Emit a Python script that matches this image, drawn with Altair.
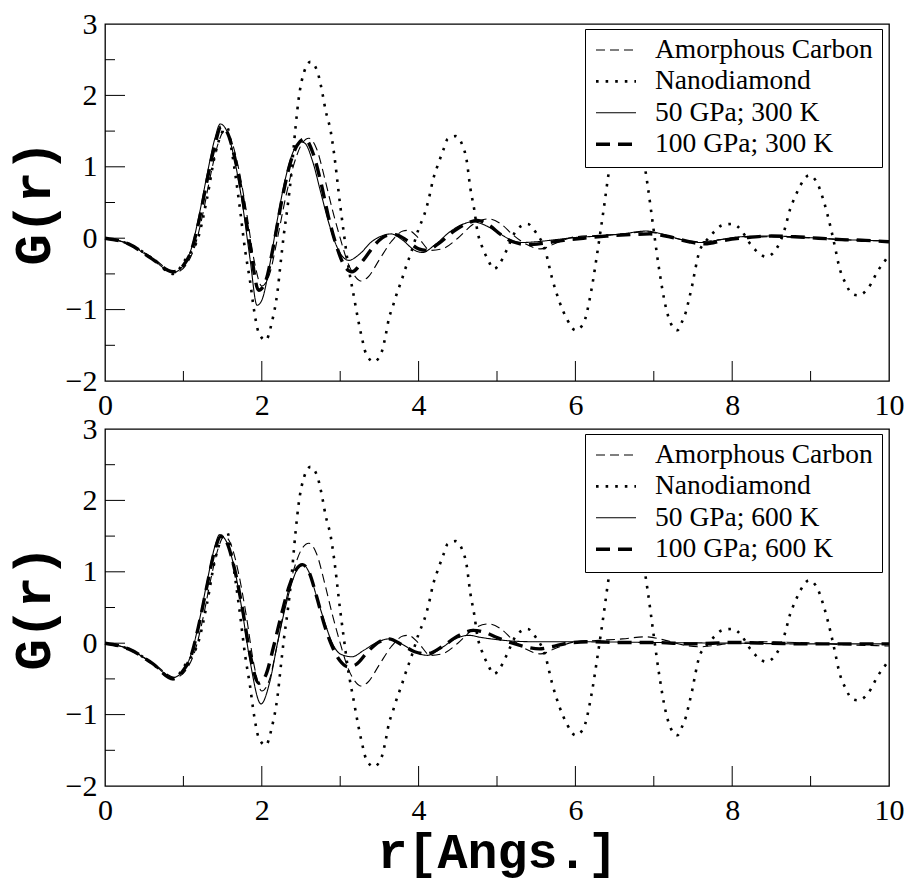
import altair as alt
import pandas as pd

# ---------------- data ----------------
r_amorphous = [0.0, 0.3, 0.6, 0.9, 1.05, 1.15, 1.25, 1.35, 1.45, 1.52, 1.6, 1.7, 1.8, 1.9, 2.0,
               2.1, 2.2, 2.3, 2.4, 2.5, 2.6, 2.7, 2.8, 2.9, 3.0, 3.1, 3.2, 3.26, 3.35, 3.5, 3.65,
               3.8, 3.87, 4.0, 4.15, 4.3, 4.5, 4.7, 4.9, 5.05, 5.2, 5.4, 5.56, 5.75, 6.0, 6.3,
               6.6, 6.9, 7.15, 7.4, 7.6, 7.85, 8.1, 8.5, 8.8, 9.1, 9.4, 9.7, 10.0]
g_amorphous = [0.0, -0.08, -0.27, -0.48, -0.35, -0.1, 0.35, 0.9, 1.35, 1.5, 1.4, 1.0, 0.4, -0.3, -0.67,
               -0.5, 0.0, 0.55, 1.0, 1.3, 1.4, 1.25, 0.85, 0.4, 0.0, -0.35, -0.55, -0.6, -0.55, -0.3, -0.05,
               0.1, 0.11, 0.0, -0.17, -0.15, 0.0, 0.2, 0.27, 0.2, 0.05, -0.1, -0.15, -0.07, 0.02, 0.04,
               0.06, 0.09, 0.04, -0.03, -0.05, -0.02, 0.01, 0.02, 0.01, 0.0, -0.02, -0.03, -0.04]

r_nano = [0.0, 0.3, 0.6, 0.87, 1.03, 1.2, 1.3, 1.4, 1.48, 1.56, 1.62, 1.71, 1.79, 1.85, 1.9, 1.96,
          2.05, 2.13, 2.2, 2.24, 2.28, 2.33, 2.37, 2.43, 2.47, 2.54, 2.62, 2.71, 2.77, 2.81, 2.88,
          2.92, 3.0, 3.05, 3.09, 3.18, 3.23, 3.28, 3.33, 3.43, 3.53, 3.58, 3.62, 3.67, 3.73, 3.78,
          3.83, 3.92, 4.0, 4.07, 4.13, 4.18, 4.26, 4.32, 4.37, 4.47, 4.56, 4.61, 4.66, 4.71, 4.75,
          4.81, 4.88, 4.96, 5.07, 5.13, 5.26, 5.39, 5.49, 5.62, 5.7, 5.8, 5.9, 6.0, 6.1, 6.2, 6.28,
          6.36, 6.43, 6.52, 6.6, 6.68, 6.76, 6.84, 6.92, 7.0, 7.07, 7.15, 7.22, 7.3, 7.36, 7.41,
          7.45, 7.49, 7.53, 7.58, 7.66, 7.77, 7.87, 8.0, 8.13, 8.21, 8.3, 8.43, 8.55, 8.66, 8.74,
          8.81, 8.87, 8.98, 9.09, 9.17, 9.26, 9.32, 9.36, 9.45, 9.53, 9.6, 9.66, 9.77, 9.85, 9.92, 10.0]
g_nano = [0.0, -0.08, -0.28, -0.5, -0.29, 0.05, 0.55, 1.15, 1.45, 1.55, 1.2, 0.51, -0.19, -0.6, -1.0, -1.32,
          -1.43, -1.17, -0.75, -0.35, 0.04, 0.45, 0.83, 1.55, 1.95, 2.33, 2.47, 2.33, 2.05, 1.81, 1.49,
          1.2, 0.46, 0.04, -0.29, -0.85, -1.15, -1.41, -1.62, -1.73, -1.59, -1.36, -1.13, -0.96, -0.75, -0.6,
          -0.43, -0.15, 0.13, 0.32, 0.55, 0.8, 1.07, 1.25, 1.39, 1.43, 1.3, 1.11, 0.7, 0.4, 0.1,
          -0.12, -0.29, -0.43, -0.29, -0.15, 0.13, 0.2, 0.09, -0.19, -0.55, -0.9, -1.15, -1.29, -1.2, -0.75, -0.2,
          0.4, 0.95, 1.45, 1.75, 1.85, 1.7, 1.3, 0.75, 0.1, -0.45, -0.95, -1.2, -1.29, -1.17, -1.03,
          -0.85, -0.66, -0.43, -0.19, -0.05, 0.09, 0.18, 0.2, 0.09, -0.05, -0.17, -0.26, -0.17, 0.09, 0.41,
          0.6, 0.74, 0.88, 0.76, 0.51, 0.13, -0.17, -0.38, -0.64, -0.78, -0.8, -0.78, -0.64, -0.47, -0.36, -0.24]

r_50_300 = [0.0, 0.3, 0.6, 0.87, 1.0, 1.1, 1.2, 1.3, 1.4, 1.47, 1.55, 1.65, 1.75, 1.85, 1.94, 2.0,
            2.1, 2.2, 2.3, 2.4, 2.5, 2.55, 2.65, 2.75, 2.85, 2.95, 3.05, 3.11, 3.25, 3.4, 3.55, 3.65,
            3.8, 3.95, 4.05, 4.2, 4.4, 4.55, 4.7, 4.85, 5.0, 5.15, 5.32, 5.5, 5.75, 6.0, 6.3, 6.6,
            6.9, 7.1, 7.35, 7.6, 7.85, 8.1, 8.5, 8.8, 9.1, 9.4, 9.7, 10.0]
g_50_300 = [0.0, -0.08, -0.29, -0.48, -0.38, -0.15, 0.32, 0.88, 1.39, 1.6, 1.51, 1.11, 0.5, -0.29, -0.94, -0.87,
            -0.38, 0.27, 0.83, 1.21, 1.35, 1.33, 1.07, 0.65, 0.23, -0.1, -0.28, -0.31, -0.22, -0.05, 0.04, 0.06,
            -0.03, -0.17, -0.2, -0.1, 0.09, 0.19, 0.23, 0.18, 0.09, -0.01, -0.06, -0.05, -0.02, 0.01, 0.03, 0.06,
            0.1, 0.06, -0.02, -0.06, -0.02, 0.02, 0.03, 0.02, 0.0, -0.02, -0.03, -0.04]

r_100_300 = [0.0, 0.3, 0.6, 0.87, 1.0, 1.1, 1.2, 1.3, 1.4, 1.48, 1.55, 1.65, 1.75, 1.85, 1.96, 2.05,
             2.15, 2.25, 2.35, 2.45, 2.55, 2.65, 2.75, 2.85, 2.95, 3.05, 3.15, 3.3, 3.45, 3.6, 3.7,
             3.85, 4.0, 4.1, 4.25, 4.45, 4.6, 4.75, 4.9, 5.05, 5.2, 5.4, 5.6, 5.85, 6.1, 6.4, 6.7,
             6.95, 7.2, 7.45, 7.65, 7.9, 8.2, 8.5, 8.8, 9.1, 9.4, 9.7, 10.0]
g_100_300 = [0.0, -0.08, -0.29, -0.47, -0.38, -0.18, 0.25, 0.8, 1.3, 1.56, 1.5, 1.15, 0.6, -0.1, -0.73, -0.6,
             -0.1, 0.5, 1.0, 1.3, 1.39, 1.2, 0.8, 0.3, -0.1, -0.38, -0.47, -0.3, -0.08, 0.04, 0.05,
             -0.03, -0.15, -0.17, -0.08, 0.1, 0.2, 0.25, 0.18, 0.05, -0.05, -0.09, -0.07, -0.03, 0.0, 0.03, 0.05,
             0.06, 0.02, -0.05, -0.08, -0.03, 0.01, 0.03, 0.02, 0.0, -0.02, -0.03, -0.05]

r_50_600 = [0.0, 0.3, 0.6, 0.87, 1.0, 1.1, 1.2, 1.3, 1.4, 1.46, 1.55, 1.65, 1.75, 1.85, 1.99, 2.1,
            2.2, 2.3, 2.4, 2.51, 2.6, 2.7, 2.8, 2.9, 3.0, 3.15, 3.3, 3.45, 3.62, 3.8, 3.95, 4.11,
            4.3, 4.45, 4.64, 4.8, 5.0, 5.2, 5.5, 6.0, 7.0, 8.0, 9.0, 10.0]
g_50_600 = [0.0, -0.08, -0.28, -0.48, -0.38, -0.15, 0.3, 0.85, 1.35, 1.52, 1.42, 1.05, 0.45, -0.25, -0.85, -0.55,
            0.0, 0.5, 0.9, 1.11, 1.0, 0.65, 0.3, 0.0, -0.15, -0.19, -0.1, 0.0, 0.06, -0.02, -0.12, -0.17,
            -0.06, 0.05, 0.11, 0.08, 0.05, 0.03, 0.02, 0.02, 0.01, 0.0, -0.01, -0.01]

r_100_600 = [0.0, 0.3, 0.6, 0.87, 1.0, 1.1, 1.2, 1.3, 1.4, 1.48, 1.55, 1.65, 1.75, 1.85, 1.96, 2.05,
             2.15, 2.25, 2.35, 2.45, 2.52, 2.6, 2.7, 2.8, 2.9, 3.0, 3.1, 3.2, 3.35, 3.5, 3.62, 3.8,
             3.95, 4.1, 4.3, 4.5, 4.7, 4.85, 5.0, 5.2, 5.4, 5.54, 5.7, 5.9, 6.2, 6.6, 7.0, 7.5, 8.0,
             8.5, 9.0, 9.5, 10.0]
g_100_600 = [0.0, -0.08, -0.28, -0.5, -0.38, -0.17, 0.27, 0.8, 1.3, 1.5, 1.42, 1.05, 0.5, -0.15, -0.56, -0.45,
             -0.05, 0.4, 0.8, 1.05, 1.1, 1.0, 0.65, 0.25, -0.05, -0.25, -0.33, -0.3, -0.12, 0.02, 0.06, -0.03,
             -0.12, -0.15, -0.05, 0.1, 0.18, 0.15, 0.08, 0.0, -0.06, -0.08, -0.05, 0.0, 0.02, 0.01, 0.01, -0.01, 0.01,
             0.0, -0.01, -0.01, -0.01]

labels_top = ["Amorphous Carbon", "Nanodiamond", "50 GPa; 300 K", "\u2002100 GPa; 300 K"]
labels_bottom = ["Amorphous Carbon", "Nanodiamond", "50 GPa; 600 K", "\u2002100 GPa; 600 K"]

x_major_ticks = [2, 4, 6, 8]
x_minor_ticks = [1, 3, 5, 7, 9]
y_major_ticks = [-1, 0, 1, 2]
y_minor_ticks = [-1.5, -0.5, 0.5, 1.5, 2.5]
x_label_values = [0, 2, 4, 6, 8, 10]
y_label_values = [-2, -1, 0, 1, 2, 3]

# ---------------- styling ----------------
W, H = 784, 357
dash_styles = [[9, 5], [2.6, 7], [1, 0], [14, 8]]
stroke_widths = [1.1, 2.6, 1.1, 3.4]
SERIF = "Liberation Serif"
MONO = "Liberation Mono"


def panel(series, labels, x_title):
    rows = []
    for lab, (rs, gs) in zip(labels, series):
        for r, g in zip(rs, gs):
            rows.append({"series": lab, "r": r, "g": g})
    df = pd.DataFrame(rows)

    xs = alt.Scale(domain=[0, 10], nice=False, zero=False)
    ys = alt.Scale(domain=[-2, 3], nice=False, zero=False)

    legend = alt.Legend(
        title=None, orient="none", legendX=480, legendY=5,
        strokeColor="black", fillColor="white", padding=9,
        labelFont=SERIF, labelFontSize=27.5, labelColor="black", labelLimit=400,
        symbolType="stroke", symbolSize=1600, symbolStrokeColor="black",
        labelOffset=17, clipHeight=24, rowPadding=3.4,
    )

    x_axis = alt.Axis(values=x_label_values, title=x_title)
    y_axis = alt.Axis(values=y_label_values, title="G(r)")

    lines = alt.Chart(df).mark_line(color="black", interpolate="monotone", strokeCap="butt").encode(
        x=alt.X("r:Q", scale=xs, axis=x_axis),
        y=alt.Y("g:Q", scale=ys, axis=y_axis),
        strokeDash=alt.StrokeDash("series:N", scale=alt.Scale(domain=labels, range=dash_styles),
                                  legend=legend),
        strokeWidth=alt.StrokeWidth("series:N",
                                    scale=alt.Scale(type="ordinal", domain=labels, range=stroke_widths),
                                    legend=legend),
    )

    def xticks(vals, length):
        return alt.Chart(pd.DataFrame({"r": vals})).mark_rule(color="black", strokeWidth=1).encode(
            x=alt.X("r:Q", scale=xs, axis=x_axis), y=alt.value(H), y2=alt.value(H - length))

    def yticks(vals, length):
        return alt.Chart(pd.DataFrame({"g": vals})).mark_rule(color="black", strokeWidth=1).encode(
            y=alt.Y("g:Q", scale=ys, axis=y_axis), x=alt.value(0), x2=alt.value(length))

    return alt.layer(
        lines,
        xticks(x_major_ticks, 20), xticks(x_minor_ticks, 10),
        yticks(y_major_ticks, 20), yticks(y_minor_ticks, 10),
    ).properties(width=W, height=H)


top = panel([(r_amorphous, g_amorphous), (r_nano, g_nano), (r_50_300, g_50_300), (r_100_300, g_100_300)],
            labels_top, None)
bottom = panel([(r_amorphous, g_amorphous), (r_nano, g_nano), (r_50_600, g_50_600), (r_100_600, g_100_600)],
               labels_bottom, "r[Angs.]")

chart = alt.vconcat(top, bottom, spacing=48, bounds="flush").resolve_scale(
    strokeDash="independent", strokeWidth="independent"
).resolve_legend(
    strokeDash="independent", strokeWidth="independent"
).properties(
    padding={"left": -2, "top": 0, "right": 0, "bottom": 6}, background="white"
).configure_view(
    stroke="black", strokeWidth=1.3
).configure_axis(
    ticks=False, domain=False, grid=False,
    labelFont=SERIF, labelFontSize=30, labelColor="black", labelFlush=False,
    titleFont=MONO, titleFontSize=52, titleFontWeight="bold", titleColor="black",
).configure_axisX(
    labelPadding=9, titlePadding=2, titleFontSize=50,
).configure_axisY(
    labelPadding=8, titlePadding=5,
)

chart.save("out.html", embed_options={"renderer": "svg", "actions": False})
